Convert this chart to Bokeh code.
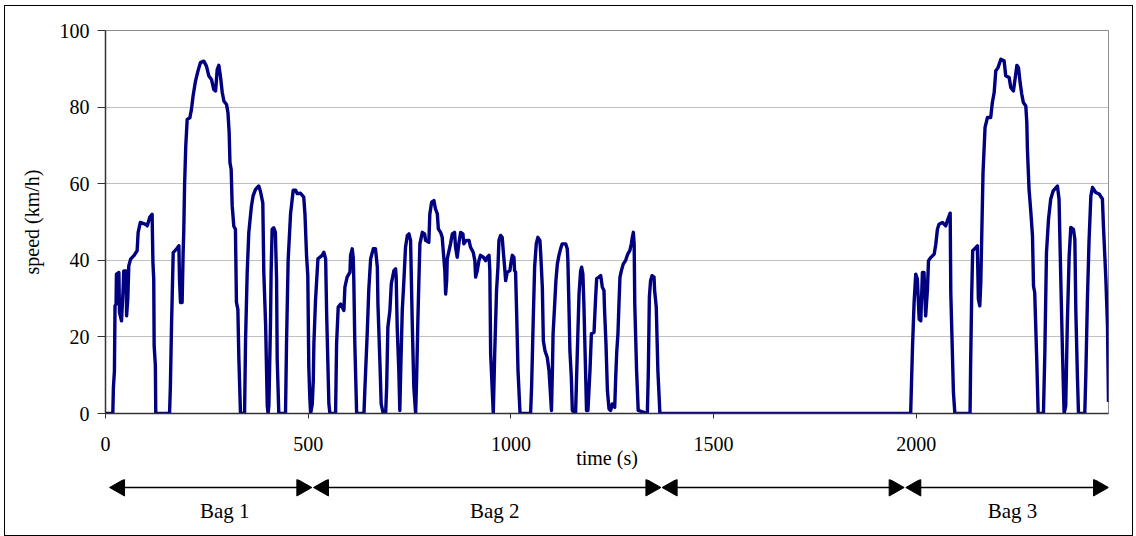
from bokeh.plotting import figure
from bokeh.layouts import column
from bokeh.models import Range1d, FixedTicker
from bokeh.core.properties import value
from bokeh.embed import file_html
from bokeh.resources import INLINE

# (time s, speed km/h)
bag1 = [(0, 0), (18, 0), (19.5, 6.8), (22, 11.1), (23.5, 28.1), (26, 28.5), (27, 36.4), (33, 36.8), (34.5, 26.4),
        (39.5, 24.2), (43.5, 32.5), (45, 37.2), (51, 37.2), (52, 25.5), (55, 29.9), (57.5, 38.6), (62, 40.3),
        (70, 41.2), (78, 42.5), (80.5, 47.3), (86, 49.9), (99, 49.4), (103, 49), (109, 51.2), (115, 52),
        (117, 39.4), (119, 35.1), (120, 17.7), (123, 12.5), (124, 0),
        (158, 0), (160, 7), (163, 23.7), (167, 42), (175, 42.9), (181, 43.8), (182.5, 35.1), (185, 29),
        (189, 29), (191.5, 42), (193, 47.3), (195, 59.4), (198, 69.9), (201.5, 76.8), (208, 77.2),
        (212, 79.4), (216, 82.9), (222, 86.8), (228, 89.4), (234, 91.6), (242.5, 92), (249, 90.7),
        (255, 88.1), (261.5, 87.2), (267, 84.6), (271.5, 84.2), (275.5, 89.8), (279.5, 90.9), (283.5, 88.1),
        (288, 83.8), (292, 81.6), (298.5, 80.7), (302, 78.6), (305, 73.4), (307, 65.5), (310, 63.7),
        (312.5, 54.2), (316.5, 48.9), (320.5, 48.1), (323, 29), (326.5, 27.2), (329, 14.2), (333, 0),
        (343, 0), (345.5, 19.4), (349.5, 36.8), (353.5, 47.3), (360, 54.2), (364, 56.8), (370, 58.5),
        (378, 59.4), (382, 58.1), (388, 55), (390.5, 36.8), (395, 23), (399, 2), (401, 0),
        (403, 2), (407, 23.7), (408.5, 36.8), (411, 48.1), (415, 48.5), (419, 47.3), (422, 35),
        (423.5, 14.2), (427.5, 0),
        (444, 0), (446.5, 18.3), (450.5, 40), (456.5, 52.2), (463, 58.3), (469, 58.3), (473, 57.4),
        (481, 57.5), (489, 56.5), (492, 52), (496, 41), (499, 36), (501.5, 12), (504, 4), (506, 0)]

bag2 = [(510, 2.5), (512.5, 8.6), (514, 18.2), (518, 29.5), (524, 40.4), (534.5, 41.3), (538.5, 42.1),
        (543, 40.4), (545.5, 26), (551, 2.5), (553.5, 0),
        (567.5, 0), (570, 18.2), (574, 27.8), (580, 28.6), (588, 26.9), (590.5, 33), (596, 35.6),
        (603, 36.9), (604.5, 41.3), (608.5, 43), (611, 40.8), (612.5, 34.7), (615, 18.2), (619.5, 0),
        (637.5, 0), (640, 6.9), (645.5, 20.8), (649.5, 32.5), (654, 40.4), (660.5, 43), (666, 43),
        (670.5, 38.2), (672, 28.6), (677, 13), (680, 2.5), (685, 0),
        (691, 0), (693.5, 6.9), (696.5, 22.5), (701.5, 26.9), (705, 33.9), (711.5, 37.3), (715.5, 37.8),
        (717, 35.6), (719.5, 22.5), (723.5, 11.2), (726, 0.8), (728, 10.4), (732, 26.9), (736, 34.7),
        (740, 43.4), (744.5, 46.5), (748.5, 46.9), (752.5, 45.2), (754, 37.3), (756.5, 24.3), (760.5, 6.9),
        (765, 0), (767.5, 9.5), (770.5, 24.3), (773, 34.7), (775.5, 44.3), (781.5, 47.3), (787, 46.9),
        (789.5, 45.2), (797.5, 44.7), (800, 52.1), (804.5, 55.2), (810, 55.6), (814, 53.4), (818.5, 52.1),
        (821, 48.2), (826.5, 47.3), (830.5, 46), (833, 42.6), (837, 37.3), (839, 31.2), (841.5, 34.7),
        (843, 40.4), (851, 44.3), (855.5, 46.9), (861, 47.3), (863.5, 43.4), (867.5, 40.8), (871.5, 44.3),
        (876, 47.3), (881.5, 46.9), (884, 44.3), (890, 45.2), (896.5, 45.2), (900.5, 43.4), (907, 42.1),
        (911, 39.9), (913, 35.6), (917, 37.3), (921, 39.9), (925, 41.3), (932, 40.8), (937.5, 39.9),
        (941.5, 40.8), (946, 41.3), (948, 37.3), (950, 15.6), (956.5, 0),
        (960, 15.6), (964.5, 32), (968, 38.2), (970.5, 45.2), (974.5, 46.5), (978.5, 46), (981, 42.6),
        (984.5, 38.2), (987, 34.7), (991, 36.9), (997.5, 37.3), (1001, 40), (1003.5, 41.3), (1007.5, 40.8),
        (1009, 37.3), (1011.5, 36.9), (1014, 26.9), (1017.5, 11.2), (1022.5, 0),
        (1048.5, 0), (1051, 6.9), (1055, 24.3), (1058.5, 38.2), (1062.5, 44.3), (1066.5, 46), (1071.5, 45.2),
        (1073.5, 41.7), (1077.5, 33), (1080, 19), (1084, 16.4), (1089.5, 14.7), (1094, 11.2), (1097, 6),
        (1100, 0.8), (1102.5, 12), (1104, 20.8), (1108, 28.6), (1111, 34.7), (1114.5, 39), (1118.5, 41.3),
        (1122.5, 43), (1126.5, 44.3), (1135, 44.3), (1139, 43), (1140.5, 40), (1143, 28.6), (1145.5, 16.4),
        (1149, 9.5), (1151.5, 0.8), (1159.5, 0),
        (1162, 9.5), (1168, 31.2), (1172, 37.3), (1174.5, 38.2), (1177.5, 36.4), (1180, 28.6), (1182, 19.9),
        (1184.5, 9.5), (1186.5, 0.8), (1190, 0.8), (1195, 11.2), (1198.5, 20.8), (1205, 21.2), (1209, 30.4),
        (1211.5, 35.2), (1217, 35.6), (1221.5, 36), (1225.5, 33), (1229.5, 32.1), (1231, 26.9),
        (1234.5, 18.2), (1238, 6), (1242, 1.2), (1246, 0.8), (1250, 2.5), (1256, 1.6), (1258.5, 9.5),
        (1261, 16), (1264, 20.8), (1266.5, 28.6), (1269, 35.6), (1272.5, 37.3), (1277, 39), (1283, 40),
        (1285.5, 40.8), (1288.5, 41.7), (1293.5, 42.6), (1297, 44.3), (1299.5, 46), (1302, 47.3),
        (1304, 44.3), (1305.5, 28.6), (1310, 11.2), (1314, 0.8),
        (1336.5, 0), (1339, 11.2), (1341.5, 30.4), (1344.5, 34.7), (1348, 36), (1353, 35.6), (1354.5, 32.1),
        (1358.5, 27.8), (1362.5, 11.2), (1367.5, 0)]

bag3 = [(1986, 0), (1990.5, 17.2), (1994.5, 29), (1998.5, 36.4), (2002.5, 35.1), (2007, 24.6), (2011, 24.2),
        (2015, 36.8), (2019, 36.8), (2023, 25.5), (2027.5, 32.5), (2030, 39.9), (2035.5, 40.7),
        (2044, 41.6), (2048, 44.2), (2052, 48.1), (2056, 49.4), (2064.5, 49.9), (2072.5, 49),
        (2076.5, 50.3), (2083.5, 52.3), (2085, 31.6), (2091.5, 5.5), (2095, 0),
        (2132.5, 0), (2134, 13.3), (2136.5, 30.7), (2139, 42.5), (2146.5, 43.3), (2150.5, 43.8),
        (2153, 29.9), (2156.5, 28.1), (2159, 34.2), (2161.5, 47.3), (2164.5, 62.9), (2169.5, 74.7),
        (2175.5, 77.3), (2183.5, 77.3), (2187.5, 81.2), (2192, 83.8), (2196, 89.5), (2201.5, 90.3),
        (2208.5, 92.5), (2216.5, 92.1), (2220.5, 88.2), (2229, 87.7), (2233, 85.1), (2239.5, 84.2),
        (2243.5, 87.3), (2248, 90.9), (2252, 90.3), (2256, 86.4), (2260, 83.4), (2264, 81.2), (2270, 80.3),
        (2272.5, 76), (2274, 69), (2278, 58.6), (2282.5, 52.5), (2286.5, 46.4), (2289, 33.3), (2292, 31.6),
        (2297, 14.2), (2300.5, 0),
        (2313.5, 0), (2317, 15.9), (2321, 42), (2326, 50.7), (2331.5, 56), (2337.5, 58.1), (2348, 59.4),
        (2352, 56), (2356.5, 34.2), (2360.5, 15.9), (2364.5, 0), (2368.5, 2), (2372.5, 23.8), (2377, 41.2),
        (2381, 48.6), (2387.5, 48.1), (2391, 45.5), (2393.5, 26.4), (2397.5, 9), (2400, 0),
        (2415.5, 0), (2418, 9.8), (2422, 29.9), (2426, 45.1), (2430.5, 56.8), (2434.5, 59), (2442.5, 57.7),
        (2451, 57.3), (2459, 56), (2461.5, 49), (2467.5, 35.1), (2471.5, 22.9), (2474, 3)]

x_ticks = [0, 500, 1000, 1500, 2000]
y_ticks = [0, 20, 40, 60, 80, 100]

# bag arrows: start / end time (s), label and label centre (s)
bag_starts = [10, 513, 1373, 1974]
bag_ends = [509, 1370, 1970, 2474]
bag_names = ["Bag 1", "Bag 2", "", "Bag 3"]
bag_label_x = [294, 960, 1672, 2237]

SERIF = "Liberation Serif"
X_MAX = 2474
FRAME_W = 1003          # plot-area width in px
HEAD_LEN = 15 * X_MAX / FRAME_W   # arrow-head length in seconds
HEAD_HALF = 8.5                   # arrow-head half height (px units of bottom strip)

pts = bag1 + bag2 + bag3
t = [a for a, b in pts]
v = [b for a, b in pts]

x_range = Range1d(0, X_MAX)

p = figure(width=1127, height=473, x_range=x_range, y_range=Range1d(0, 100),
           output_backend="svg", toolbar_location=None,
           min_border_left=100, min_border_right=24, min_border_top=24, min_border_bottom=66)
p.background_fill_color = "white"
p.border_fill_color = "white"
p.outline_line_color = "#8c8c8c"
p.outline_line_width = 1

p.line(t, v, line_color="#000080", line_width=3.4, line_join="round")

p.xaxis.ticker = FixedTicker(ticks=x_ticks)
p.yaxis.ticker = FixedTicker(ticks=y_ticks)
p.xgrid.grid_line_color = None
p.ygrid.grid_line_color = "#c0c0c0"
p.ygrid.grid_line_width = 1

for ax in (p.xaxis[0], p.yaxis[0]):
    ax.axis_line_color = "#333333"
    ax.axis_line_width = 1.5
    ax.major_tick_line_color = "#333333"
    ax.major_tick_in = 0
    ax.minor_tick_line_color = None
    ax.major_label_text_font = SERIF
    ax.major_label_text_font_size = "20px"
    ax.major_label_text_color = "black"
    ax.axis_label_text_font = SERIF
    ax.axis_label_text_font_size = "20px"
    ax.axis_label_text_font_style = "normal"
    ax.axis_label_text_color = "black"

p.xaxis.major_tick_out = 5
p.xaxis.major_label_standoff = 18
p.xaxis.axis_label = "time (s)"
p.xaxis.axis_label_standoff = -7

p.yaxis.major_tick_out = 8
p.yaxis.major_label_standoff = 8
p.yaxis.axis_label = "speed (km/h)"
p.yaxis.axis_label_standoff = 14

# bottom strip with the bag arrows (y in px from the strip bottom)
q = figure(width=1127, height=56, x_range=x_range, y_range=Range1d(0, 56),
           output_backend="svg", toolbar_location=None, x_axis_type=None, y_axis_type=None,
           min_border_left=100, min_border_right=24, min_border_top=0, min_border_bottom=0)
q.outline_line_color = None
q.grid.visible = False
q.background_fill_color = "white"
q.border_fill_color = "white"

ARROW_Y = 48
LABEL_Y = 25
q.segment(x0=[s + HEAD_LEN * 0.5 for s in bag_starts], y0=ARROW_Y,
          x1=[e - HEAD_LEN * 0.5 for e in bag_ends], y1=ARROW_Y,
          line_color="black", line_width=1.5)
heads_x, heads_y = [], []
for s, e in zip(bag_starts, bag_ends):
    heads_x.append([s, s + HEAD_LEN, s + HEAD_LEN])
    heads_y.append([ARROW_Y, ARROW_Y + HEAD_HALF, ARROW_Y - HEAD_HALF])
    heads_x.append([e, e - HEAD_LEN, e - HEAD_LEN])
    heads_y.append([ARROW_Y, ARROW_Y + HEAD_HALF, ARROW_Y - HEAD_HALF])
q.patches(heads_x, heads_y, fill_color="black", line_color="black", line_width=1)

lab = [(x, n) for x, n in zip(bag_label_x, bag_names) if n]
q.text(x=[a for a, b in lab], y=LABEL_Y, text=[b for a, b in lab],
       text_align="center", text_baseline="middle",
       text_font=value(SERIF), text_font_size="21px", text_color="black")

layout = column(p, q, margin=(6, 0, 0, 5),
                styles={"outline": "1.5px solid black", "outline-offset": "0px"})

open("out.html", "w").write(file_html(layout, INLINE))
